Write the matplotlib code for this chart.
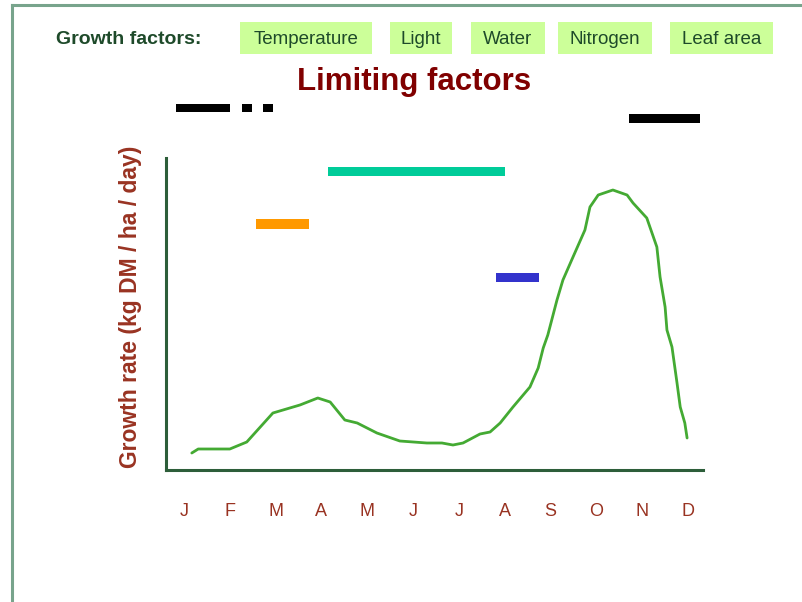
import matplotlib.pyplot as plt
from matplotlib.lines import Line2D
from matplotlib.patches import Rectangle

# --- data (month index 0 = Jan, growth in arbitrary units) ---
months = ["J", "F", "M", "A", "M", "J", "J", "A", "S", "O", "N", "D"]

curve_x = [0.17, 0.31, 1.00, 1.37, 1.94, 2.53, 2.92, 3.19, 3.51, 3.78, 4.21, 4.71,
           5.30, 5.63, 5.87, 6.09, 6.46, 6.68, 6.90, 7.18, 7.55, 7.73, 7.84, 7.94,
           8.14, 8.27, 8.49, 8.75, 8.86, 9.04, 9.36, 9.67, 9.80, 10.10, 10.32, 10.39,
           10.50, 10.54, 10.65, 10.76, 10.83, 10.93, 10.98]
curve_y = [17, 21, 21, 28, 57, 65, 72, 68, 50, 47, 37, 29,
           27, 27, 25, 27, 36, 38, 47, 63, 83, 102, 122, 135,
           170, 190, 213, 240, 263, 275, 280, 275, 267, 252, 223, 193,
           163, 140, 123, 87, 63, 47, 32]

growth_factors = ["Temperature", "Light", "Water", "Nitrogen", "Leaf area"]

# limiting factor periods: (start month, end month, level, colour)
bar_start = [-0.17, 1.27, 1.72, 9.71, 3.14, 1.57, 6.81]
bar_end = [1.00, 1.48, 1.94, 11.26, 7.01, 2.73, 7.75]
bar_level = [362, 362, 362, 352, 299, 246, 193]
bar_thick = [8, 8, 8, 9, 9, 10, 9]
bar_color = ["black", "black", "black", "black", "#00cc99", "#ff9900", "#3333cc"]

W, H = 803, 602
fig = plt.figure(figsize=(W / 100, H / 100), dpi=100)

# frame lines of the slide
frame_col = "#78a48c"
fig.add_artist(Line2D([12 / W, 1], [1 - 5 / H, 1 - 5 / H], color=frame_col, lw=2.2))
fig.add_artist(Line2D([12 / W, 12 / W], [0, 1 - 5 / H], color=frame_col, lw=2.2))

ax = fig.add_axes([166 / W, 1 - 470 / H, (703 - 166) / W, (470 - 100) / H])
ax.set_xlim(-0.393, 11.327)
ax.set_ylim(0, 370)

ax.plot(curve_x, curve_y, color="#44aa33", lw=2.0, solid_capstyle="round")

for s, e, lv, th, c in zip(bar_start, bar_end, bar_level, bar_thick, bar_color):
    ax.barh(lv, e - s, left=s, height=th, color=c)

spine_col = "#2d5e3a"
for side in ["top", "right"]:
    ax.spines[side].set_visible(False)
ax.spines["left"].set_bounds(0, 312)
ax.spines["left"].set_color(spine_col)
ax.spines["bottom"].set_color(spine_col)
ax.spines["left"].set_linewidth(2.2)
ax.spines["bottom"].set_linewidth(2.2)

ax.set_xticks(range(len(months)))
ax.set_xticklabels(months, color="#993322", fontsize=13, family="Liberation Sans")
ax.set_yticks([])
ax.tick_params(axis="x", length=0, pad=24)

fig.text(130 / W, 1 - 307 / H, "Growth rate (kg DM / ha / day)", rotation=90,
         ha="center", va="center", color="#993322", fontsize=16.5,
         fontweight="bold", family="Liberation Sans")

# header
txt_col = "#1e4a2a"
fig.text(129 / W, 1 - 40 / H, "Growth factors:", ha="center", va="center",
         color=txt_col, fontsize=14, fontweight="bold", family="Liberation Sans")
box_left = [240, 390, 471, 558, 670]
box_right = [372, 452, 545, 652, 773]
for label, bl, br in zip(growth_factors, box_left, box_right):
    fig.add_artist(Rectangle((bl / W, 1 - 54 / H), (br - bl) / W, 32 / H,
                             transform=fig.transFigure, fc="#ccff99", ec="none"))
    fig.text((bl + br) / 2 / W, 1 - 40 / H, label, ha="center", va="center",
             color=txt_col, fontsize=13.5, family="Liberation Sans")

fig.text(414 / W, 1 - 82 / H, "Limiting factors", ha="center", va="center",
         color="#800000", fontsize=22.5, fontweight="bold", family="Liberation Sans")

fig.savefig("out.png", dpi=100)
